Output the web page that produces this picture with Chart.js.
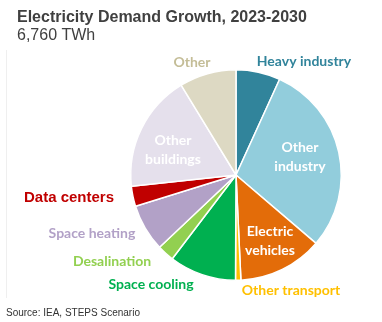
<!DOCTYPE html>
<html>
<head>
<meta charset="utf-8">
<script src="https://cdn.jsdelivr.net/npm/chart.js@4"></script>
<style>
  html, body { margin: 0; padding: 0; background: #fff; }
  #wrap { position: relative; width: 382px; height: 322px; }
</style>
</head>
<body>
<div id="wrap"><canvas id="my-chart" width="382" height="322"></canvas></div>
<script>
// parts of the 6,760 TWh growth (TWh)
const sectors = ['Heavy industry', 'Other industry', 'Electric vehicles', 'Other transport', 'Space cooling',
  'Desalination', 'Space heating', 'Data centers', 'Other buildings', 'Other'];
const growthTwh = [460, 1990, 880, 55, 695, 175, 490, 210, 1215, 590];
const sliceColors = ['#31849B', '#92CDDC', '#E36C09', '#FFC000', '#00B050',
  '#92D050', '#B2A1C7', '#C00000', '#E5E0EC', '#DDD9C3'];

const chartTitle = 'Electricity Demand Growth, 2023-2030';
const chartSubtitle = '6,760 TWh';
const sourceNote = 'Source: IEA, STEPS Scenario';

// where each label sits (centre x, middle y) and how it looks
const labelLayout = {
  'Heavy industry':    { x: 304, y: 61,  color: '#31849B' },
  'Other industry':    { x: 300, y: 157, color: '#ffffff', lines: ['Other', 'industry'] },
  'Electric vehicles': { x: 270, y: 241, color: '#ffffff', lines: ['Electric', 'vehicles'] },
  'Other transport':   { x: 291, y: 290, color: '#FFC000' },
  'Space cooling':     { x: 151, y: 284, color: '#00B050' },
  'Desalination':      { x: 112, y: 261, color: '#92D050' },
  'Space heating':     { x: 92,  y: 233, color: '#B2A1C7' },
  'Data centers':      { x: 69,  y: 198, color: '#C00000', font: 'bold 15px "Liberation Sans", Arial, sans-serif' },
  'Other buildings':   { x: 173, y: 150, color: '#ffffff', lines: ['Other', 'buildings'] },
  'Other':             { x: 192, y: 62,  color: '#C4BD97' }
};

const textPlugin = {
  id: 'textPlugin',
  afterDraw(chart) {
    const ctx = chart.ctx;
    ctx.save();
    // faint frame line on the left
    ctx.strokeStyle = '#efefef';
    ctx.lineWidth = 1;
    ctx.beginPath();
    ctx.moveTo(6.5, 50);
    ctx.lineTo(6.5, 298);
    ctx.stroke();

    ctx.fillStyle = '#404040';
    ctx.textAlign = 'left';
    ctx.textBaseline = 'alphabetic';
    ctx.font = 'bold 16px "Liberation Sans", Arial, sans-serif';
    ctx.fillText(chartTitle, 17, 22);
    ctx.font = '16px "Liberation Sans", Arial, sans-serif';
    ctx.fillText(chartSubtitle, 17, 40);
    ctx.fillStyle = '#333333';
    ctx.font = '10px "Liberation Sans", Arial, sans-serif';
    ctx.fillText(sourceNote, 6, 316);

    ctx.textAlign = 'center';
    ctx.textBaseline = 'middle';
    sectors.forEach(name => {
      const l = labelLayout[name];
      ctx.fillStyle = l.color;
      ctx.font = l.font || 'bold 14px Lato, "Open Sans", sans-serif';
      const lines = l.lines || [name];
      lines.forEach((t, i) => {
        ctx.fillText(t, l.x, l.y + (i - (lines.length - 1) / 2) * 19.5);
      });
    });
    ctx.restore();
  }
};

new Chart(document.querySelector('#my-chart'), {
  type: 'pie',
  data: {
    labels: sectors,
    datasets: [{
      data: growthTwh,
      backgroundColor: sliceColors,
      borderColor: '#ffffff',
      borderWidth: 1.5
    }]
  },
  options: {
    responsive: false,
    animation: false,
    layout: { padding: { left: 130, right: 40, top: 69, bottom: 41 } },
    plugins: {
      legend: { display: false },
      tooltip: { enabled: false }
    }
  },
  plugins: [textPlugin]
});
</script>
</body>
</html>
